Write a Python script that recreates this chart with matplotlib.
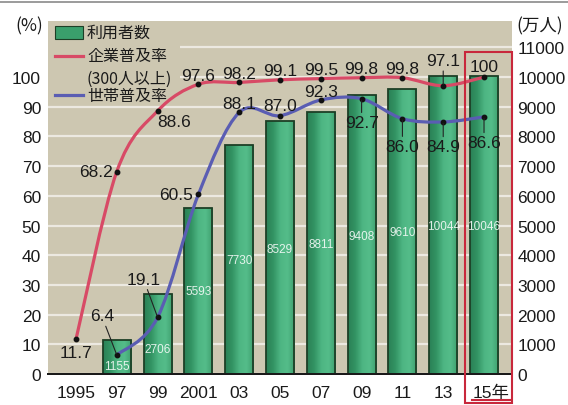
import numpy as np
import matplotlib.pyplot as plt
from matplotlib.patches import Rectangle, PathPatch
from matplotlib.path import Path
from matplotlib.lines import Line2D
from matplotlib.colors import LinearSegmentedColormap
import matplotlib.transforms as mtransforms

years = ['1995', '97', '99', '2001', '03', '05', '07', '09', '11', '13', '15年']
# 利用者数 (万人), 1997-2015
users = [1155, 2706, 5593, 7730, 8529, 8811, 9408, 9610, 10044, 10046]
# 企業普及率 (300人以上), 1995-2015
company_rate = [11.7, 68.2, 88.6, 97.6, 98.2, 99.1, 99.5, 99.8, 99.8, 97.1, 100]
# 世帯普及率, 1997-2015
household_rate = [6.4, 19.1, 60.5, 88.1, 87.0, 92.3, 92.7, 86.0, 84.9, 86.6]

company_labels = ['11.7', '68.2', '88.6', '97.6', '98.2', '99.1', '99.5', '99.8', '99.8', '97.1', '100']
household_labels = ['6.4', '19.1', '60.5', '88.1', '87.0', '92.3', '92.7', '86.0', '84.9', '86.6']

# label placement (pixel offsets from the point, leader line on/off)
company_offsets = [(0, -13), (-21, 0), (17, -11), (0, 9), (0, 9), (0, 9),
                   (0, 9), (0, 9), (0, 9), (0, 25), (0, 11)]
company_leader = [False] * 9 + [True, False]
household_offsets = [(-15, 39), (-14, 38), (-22, 0), (0, 9), (0, 10), (0, 8),
                     (0, -24), (0, -28), (0, -25), (0, -26)]
household_leader = [True, True, False, False, False, False, True, True, True, True]
# heights (万人) of the numbers written inside the bars
bar_label_y = [270, 840, 2800, 3840, 4200, 4380, 4650, 4780, 4980, 4980]

W, H = 568, 406
BG = '#cdc7b1'
GRID = '#ece9e1'
RED = '#d84a66'
BLUE = '#5a5db3'
EDGE = '#1d3f26'
NUM_FONT = ['Liberation Sans', 'DejaVu Sans']
JP_FONT = ['Noto Sans CJK JP', 'DejaVu Sans']


def fx(px):
    return px / W


def fy(py):
    return 1 - py / H


def smooth_path(x, y):
    # Catmull-Rom through the points, written as cubic bezier segments
    pts = np.column_stack([x, y]).astype(float)
    ext = np.vstack([pts[0], pts, pts[-1]])
    verts = [pts[0]]
    codes = [Path.MOVETO]
    for i in range(len(pts) - 1):
        p0, p1, p2, p3 = ext[i], ext[i + 1], ext[i + 2], ext[i + 3]
        verts += [p1 + (p2 - p0) / 6, p2 - (p3 - p1) / 6, p2]
        codes += [Path.CURVE4] * 3
    return Path(verts, codes)


fig = plt.figure(figsize=(W / 100, H / 100), dpi=100)
fig.patch.set_facecolor('white')

ax = fig.add_axes([fx(48), fy(375), fx(512) - fx(48), fy(22) - fy(375)])
ax2 = ax.twinx()
ax.set_zorder(2)
ax2.set_zorder(1)
ax.patch.set_visible(False)
ax2.patch.set_visible(True)
ax2.set_facecolor(BG)

x_all = np.arange(len(years))
x_bar = x_all[1:]

# bars with a horizontal green shading
bars = ax2.bar(x_bar, users, width=0.69, facecolor='none', edgecolor=EDGE,
               linewidth=1.3, zorder=3)
cmap = LinearSegmentedColormap.from_list(
    'bar', ['#2a8056', '#339463', '#4db583', '#55bd8a', '#3e9f6e'])
grad = np.linspace(0, 1, 64).reshape(1, -1)
for b in bars:
    x0, w, h = b.get_x(), b.get_width(), b.get_height()
    im = ax2.imshow(grad, extent=[x0, x0 + w, 0, h], cmap=cmap,
                    aspect='auto', zorder=2, interpolation='bicubic')
    im.set_clip_path(b)

for xi, val, ly in zip(x_bar, users, bar_label_y):
    ax2.text(xi, ly, str(val), ha='center', va='center', fontsize=8.5,
             family=NUM_FONT, color='white', alpha=0.85, zorder=4)

ax2.set_ylim(0, 11890)
ax2.set_yticks(np.arange(0, 11001, 1000))
ax2.yaxis.grid(True, color=GRID, linewidth=1.6, zorder=0)
ax2.set_axisbelow(True)

# rate lines
ax.add_patch(PathPatch(smooth_path(x_all, company_rate), facecolor='none',
                       edgecolor=RED, linewidth=2.3, capstyle='round', zorder=3))
ax.add_patch(PathPatch(smooth_path(x_bar, household_rate), facecolor='none',
                       edgecolor=BLUE, linewidth=2.3, capstyle='round', zorder=3))
ax.plot(x_all, company_rate, 'o', color='#111111', markersize=3.2, zorder=4)
ax.plot(x_bar, household_rate, 'o', color='#111111', markersize=3.2, zorder=4)


def label_points(xs, ys, texts, offsets, leaders):
    for xi, yi, t, off, lead in zip(xs, ys, texts, offsets, leaders):
        arrow = dict(arrowstyle='-', color='#222222', linewidth=0.8,
                     shrinkA=0, shrinkB=1) if lead else None
        ax.annotate(t, (xi, yi), xytext=off, textcoords='offset pixels',
                    ha='center', va='center', fontsize=12.5, family=NUM_FONT,
                    color='#1a1a1a', arrowprops=arrow, zorder=5)


label_points(x_all, company_rate, company_labels, company_offsets, company_leader)
label_points(x_bar, household_rate, household_labels, household_offsets, household_leader)

ax.set_xlim(-0.686, 10.686)
ax.set_ylim(0, 118.9)
ax.set_yticks(np.arange(0, 101, 10))
ax.set_xticks(x_all)
ax.set_xticklabels(years)

for a in (ax, ax2):
    for side in ('top', 'left', 'right'):
        a.spines[side].set_visible(False)
    a.spines['bottom'].set_color('#1a1a1a')
    a.spines['bottom'].set_linewidth(1.4)
    a.tick_params(length=0, labelsize=12.5, labelcolor='#1a1a1a')
ax.tick_params(axis='y', pad=5)
ax.tick_params(axis='x', pad=8)
ax2.tick_params(axis='y', pad=4)
for lbl in ax.get_xticklabels() + ax.get_yticklabels() + ax2.get_yticklabels():
    lbl.set_family(NUM_FONT)
last = ax.get_xticklabels()[-1]
last.set_family(['Liberation Sans', 'Noto Sans CJK JP'])
last.set_transform(last.get_transform() +
                   mtransforms.ScaledTranslation(7 / 100, 0, fig.dpi_scale_trans))

# highlight on the 2015 column
ax.add_patch(Rectangle((fx(465), fy(404)), fx(512) - fx(465), fy(53) - fy(404),
                       transform=fig.transFigure, facecolor='none',
                       edgecolor='#c8283c', linewidth=1.5, clip_on=False, zorder=6))
fig.add_artist(Line2D([fx(472), fx(510)], [fy(401), fy(401)], color='#c8283c',
                      linewidth=1.5))

# legend drawn by hand on the plot background (under the rate lines)
ax.add_patch(Rectangle((fx(48), fy(104)), fx(180) - fx(48), fy(22) - fy(104),
                       transform=fig.transFigure, facecolor=BG, edgecolor='none',
                       zorder=2))
ax.add_patch(Rectangle((fx(55), fy(40)), fx(83) - fx(55), fy(27) - fy(40),
                       transform=fig.transFigure, facecolor='#3a9f6c',
                       edgecolor=EDGE, linewidth=0.8, zorder=5))
fig.add_artist(Line2D([fx(55), fx(83)], [fy(57), fy(57)], color=RED, linewidth=2.3,
                      zorder=5))
fig.add_artist(Line2D([fx(55), fx(83)], [fy(96), fy(96)], color=BLUE, linewidth=2.3,
                      zorder=5))
legend_text = [('利用者数', 33), ('企業普及率', 57), ('(300人以上)', 79), ('世帯普及率', 97)]
for t, py in legend_text:
    fig.text(fx(87), fy(py), t, ha='left', va='center', fontsize=11.5,
             family=JP_FONT, color='#1a1a1a', zorder=6)

fig.text(fx(29), fy(26), '(%)', ha='center', va='center', fontsize=12.5,
         family=JP_FONT, color='#1a1a1a')
fig.text(fx(540), fy(26), '(万人)', ha='center', va='center', fontsize=12.5,
         family=JP_FONT, color='#1a1a1a')

fig.add_artist(Line2D([0, 1], [fy(3), fy(3)], color='#8a8a8a', linewidth=1.2))

fig.savefig('out.png', dpi=100)
